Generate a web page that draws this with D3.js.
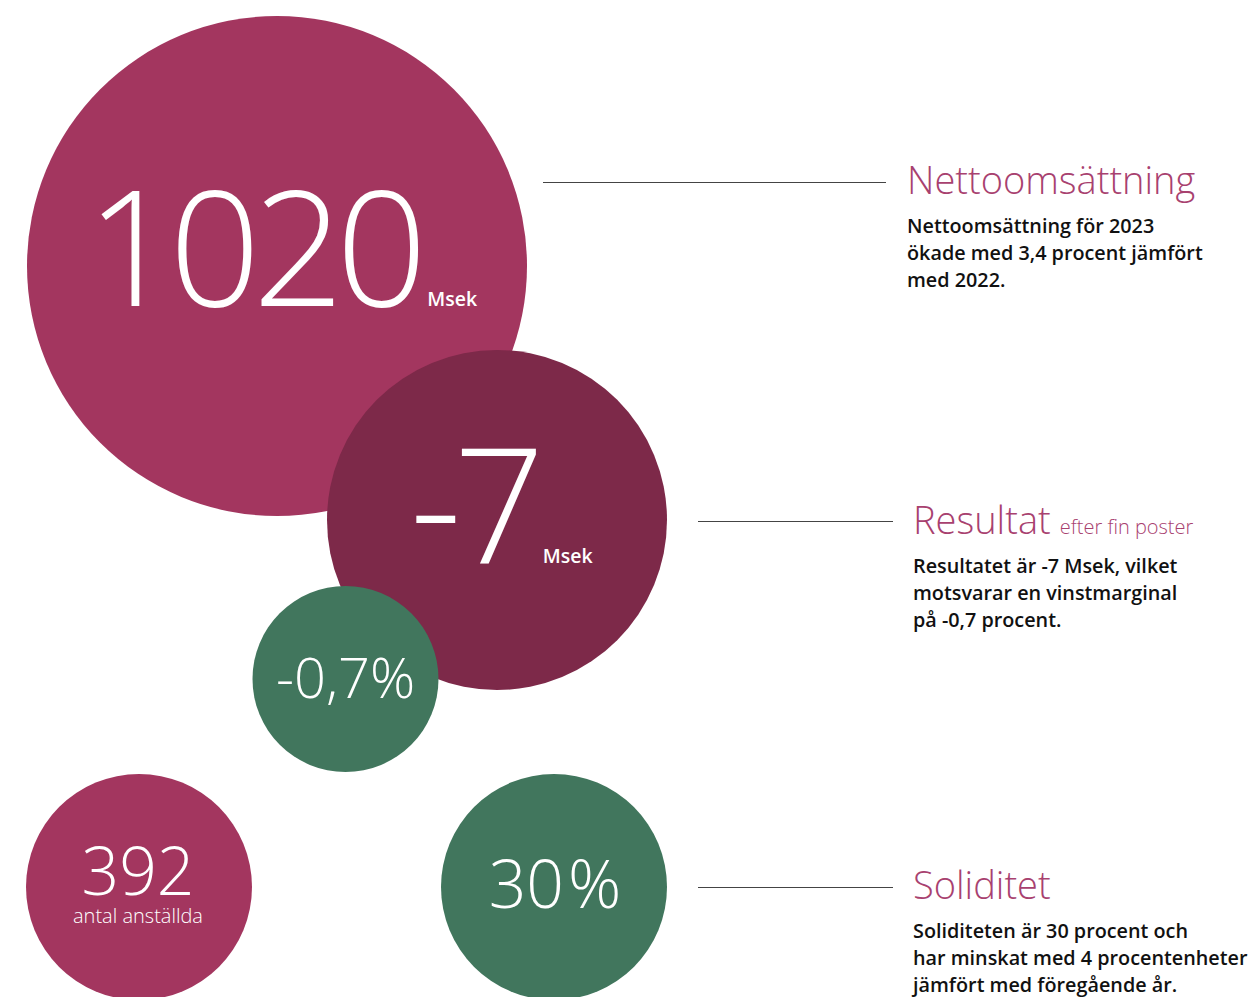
<!DOCTYPE html>
<html>
<head>
<meta charset="utf-8">
<script src="https://cdn.jsdelivr.net/npm/d3@7"></script>
<style>
  html, body { margin: 0; padding: 0; background: #fff; }
  svg { display: block; font-family: "Open Sans", sans-serif; }
</style>
</head>
<body>
<div id="chart"></div>
<script>
// Key figures
const kpiValues = ["1020", "-7", "-0,7%", "392", "30"];
const kpiUnits = ["Msek", "Msek", "", "antal anställda", "%"];

// Text blocks on the right
const headings = ["Nettoomsättning", "Resultat", "Soliditet"];
const headingNotes = ["", "efter fin poster", ""];
const descriptions = [
  ["Nettoomsättning för 2023", "ökade med 3,4 procent jämfört", "med 2022."],
  ["Resultatet är -7 Msek, vilket", "motsvarar en vinstmarginal", "på -0,7 procent."],
  ["Soliditeten är 30 procent och", "har minskat med 4 procentenheter", "jämfört med föregående år."]
];

const width = 1255;
const height = 997;

const pink = "#a3365f";
const wine = "#7d2949";
const green = "#41765d";
const titlePink = "#a8416f";

// layout of the bubbles (position / size only)
const bubbles = [
  { cx: 277, cy: 266, r: 250, fill: pink },
  { cx: 497, cy: 520, r: 170, fill: wine },
  { cx: 345.5, cy: 679, r: 93, fill: green },
  { cx: 139, cy: 887, r: 113, fill: pink },
  { cx: 554, cy: 887, r: 113, fill: green }
];

// connectors + text blocks
const blocks = [
  { x1: 543, x2: 886, y: 182, tx: 907, ty: 194 },
  { x1: 698, x2: 893, y: 521, tx: 913, ty: 534 },
  { x1: 698, x2: 893, y: 887, tx: 913, ty: 899 }
];

const svg = d3.select("#chart")
  .append("svg")
  .attr("width", width)
  .attr("height", height)
  .attr("viewBox", `0 0 ${width} ${height}`);

// Bubbles
svg.selectAll("circle.bubble")
  .data(bubbles)
  .join("circle")
    .attr("class", "bubble")
    .attr("cx", d => d.cx)
    .attr("cy", d => d.cy)
    .attr("r", d => d.r)
    .attr("fill", d => d.fill);

const white = "#fff";

// 1020 Msek
const t0 = svg.append("text")
  .attr("x", bubbles[0].cx - 191)
  .attr("y", bubbles[0].cy + 40)
  .attr("fill", white);
t0.append("tspan")
  .attr("font-size", 160)
  .attr("font-weight", 300)
  .attr("letter-spacing", -8)
  .text(kpiValues[0]);
t0.append("tspan")
  .attr("dx", 8)
  .attr("font-size", 19.5)
  .attr("font-weight", 600)
  .attr("letter-spacing", 0)
  .text(kpiUnits[0]);

// -7 Msek
const t1 = svg.append("text")
  .attr("x", bubbles[1].cx - 87)
  .attr("y", bubbles[1].cy + 43)
  .attr("fill", white);
t1.append("tspan")
  .attr("font-size", 160)
  .attr("font-weight", 300)
  .attr("letter-spacing", -8)
  .text(kpiValues[1]);
t1.append("tspan")
  .attr("dx", 6)
  .attr("font-size", 19.5)
  .attr("font-weight", 600)
  .attr("letter-spacing", 0)
  .text(kpiUnits[1]);

// -0,7%
svg.append("text")
  .attr("x", bubbles[2].cx)
  .attr("y", bubbles[2].cy + 19)
  .attr("text-anchor", "middle")
  .attr("font-size", 56)
  .attr("font-weight", 300)
  .attr("fill", white)
  .text(kpiValues[2]);

// 392 antal anställda (one text, two lines)
const t3 = svg.append("text")
  .attr("text-anchor", "middle")
  .attr("font-weight", 300)
  .attr("fill", white);
t3.append("tspan")
  .attr("x", bubbles[3].cx - 1)
  .attr("y", bubbles[3].cy + 8)
  .attr("font-size", 66)
  .text(kpiValues[3]);
t3.append("tspan")
  .attr("x", bubbles[3].cx - 1)
  .attr("y", bubbles[3].cy + 36)
  .attr("font-size", 20)
  .text(kpiUnits[3]);

// 30 %
const t4 = svg.append("text")
  .attr("x", bubbles[4].cx + 1)
  .attr("y", bubbles[4].cy + 21)
  .attr("text-anchor", "middle")
  .attr("font-size", 66)
  .attr("font-weight", 300)
  .attr("fill", white);
t4.append("tspan").text(kpiValues[4]);
t4.append("tspan").attr("dx", 4).text(kpiUnits[4]);

// Connector lines
svg.selectAll("line.connector")
  .data(blocks)
  .join("line")
    .attr("class", "connector")
    .attr("x1", d => d.x1)
    .attr("x2", d => d.x2)
    .attr("y1", d => d.y + 0.5)
    .attr("y2", d => d.y + 0.5)
    .attr("stroke", "#444")
    .attr("stroke-width", 1.2);

// Headings + descriptions
const block = svg.selectAll("g.block")
  .data(blocks)
  .join("g")
    .attr("class", "block")
    .attr("transform", d => `translate(${d.tx}, ${d.ty})`);

block.each(function(d, i) {
  const g = d3.select(this);
  const h = g.append("text")
    .attr("fill", titlePink)
    .attr("font-weight", 300);
  h.append("tspan")
    .attr("font-size", 38)
    .text(headings[i]);
  if (headingNotes[i]) {
    h.append("tspan")
      .attr("dx", 9)
      .attr("font-size", 20)
      .text(headingNotes[i]);
  }
  g.selectAll("text.desc")
    .data(descriptions[i])
    .join("text")
      .attr("class", "desc")
      .attr("x", 0)
      .attr("y", (_, j) => 39 + j * 27)
      .attr("font-size", 19.8)
      .attr("font-weight", 600)
      .attr("fill", "#111")
      .text(t => t);
});
</script>
</body>
</html>
